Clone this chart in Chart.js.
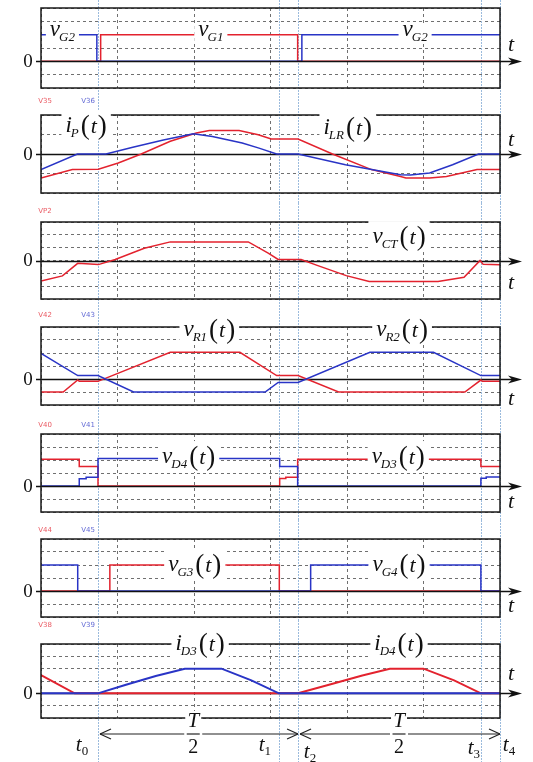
<!DOCTYPE html>
<html>
<head>
<meta charset="utf-8">
<title>LLC converter waveforms</title>
<script src="https://cdn.jsdelivr.net/npm/chart.js@4.4.1/dist/chart.umd.min.js"></script>
<style>
  html, body { margin: 0; padding: 0; background: #fff; }
  body { position: relative; width: 533px; height: 762px; overflow: hidden; }
  canvas { position: absolute; left: 0; }
</style>
</head>
<body>
<script>
// time axis runs over 6 grid divisions; switching instants t0..t4
const tMarks = [0.745, 3.11, 3.36, 5.75, 6];
const tSubs = ["0", "1", "2", "3", "4"];
// centres of the two T/2 half-period spans
const halfT = [1.99, 4.68];

// gate drives vG1 / vG2
const vG1T = [0, 0.78, 0.78, 3.355, 3.355, 6];
const vG1V = [0, 0, 2, 2, 0, 0];
const vG2T = [0, 0.73, 0.73, 3.41, 3.41, 6];
const vG2V = [2, 2, 0, 0, 2, 2];

// primary current iP and resonant inductor current iLR
const iPT = [0, 0.476, 0.85, 1.2, 1.6, 1.99, 2.24, 2.63, 2.85, 3.08, 3.36, 3.98, 4.7, 4.83, 5.08, 5.38, 5.72, 6];
const iPV = [-0.8, 0, 0, 0.35, 0.72, 1.04, 0.9, 0.56, 0.3, 0, 0, -0.55, -1.06, -1.08, -0.97, -0.55, 0, 0];
const iLRT = [0, 0.41, 0.75, 1.01, 1.31, 1.69, 2.03, 2.2, 2.59, 2.84, 3.01, 3.36, 3.81, 4.32, 4.7, 4.77, 5.08, 5.3, 5.7, 6];
const iLRV = [-1.23, -0.8, -0.78, -0.46, 0, 0.65, 1.08, 1.2, 1.2, 0.99, 0.77, 0.77, 0, -0.8, -1.15, -1.23, -1.23, -1.15, -0.8, -0.8];

// transformer centre-tap voltage vCT
const vCTT = [0, 0.28, 0.48, 0.75, 0.97, 1.35, 1.69, 2.71, 2.97, 3.1, 3.4, 3.61, 3.99, 4.29, 5.19, 5.53, 5.74, 5.78, 6];
const vCTV = [-1.6, -1.2, -0.22, -0.32, 0.08, 0.95, 1.45, 1.45, 0.58, 0.08, 0.08, -0.38, -1.18, -1.63, -1.63, -1.3, 0, -0.3, -0.33];

// secondary winding voltages vR1 / vR2
const vR1T = [0, 0.29, 0.48, 0.5, 0.745, 1.69, 2.6, 3.08, 3.36, 3.89, 5.54, 5.75, 5.77, 6];
const vR1V = [-1, -1, -0.08, -0.18, -0.18, 2.05, 2.05, 0.26, 0.26, -1, -1, -0.08, -0.18, -0.18];
const vR2T = [0, 0.48, 0.745, 1.21, 2.93, 3.1, 3.36, 4.3, 5.13, 5.75, 6];
const vR2V = [1.97, 0.26, 0.26, -1, -1, -0.26, -0.26, 2.05, 2.05, 0.26, 0.26];

// rectifier diode voltages vD3 / vD4
const vD3T = [0, 0.5, 0.5, 0.745, 0.745, 3.12, 3.12, 3.2, 3.2, 3.355, 3.355, 5.75, 5.75, 6];
const vD3V = [2.05, 2.05, 1.5, 1.5, 0, 0, 0.58, 0.58, 0.68, 0.68, 2.05, 2.05, 1.5, 1.5];
const vD4T = [0, 0.5, 0.5, 0.59, 0.59, 0.745, 0.745, 3.12, 3.12, 3.355, 3.355, 5.75, 5.75, 5.82, 5.82, 6];
const vD4V = [0, 0, 0.55, 0.55, 0.68, 0.68, 2.12, 2.12, 1.5, 1.5, 0, 0, 0.6, 0.6, 0.7, 0.7];

// synchronous rectifier gates vG3 / vG4
const vG3T = [0, 0.9, 0.9, 3.115, 3.115, 6];
const vG3V = [0, 0, 2, 2, 0, 0];
const vG4T = [0, 0.48, 0.48, 3.525, 3.525, 5.75, 5.75, 6];
const vG4V = [2, 2, 0, 0, 2, 2, 0, 0];

// diode currents iD3 / iD4
const iD3T = [0, 0.745, 1.1, 1.5, 1.88, 2.36, 2.75, 3.11, 6];
const iD3V = [0, 0, 0.68, 1.4, 2, 2, 1.05, 0, 0];
const iD4T = [0, 0.44, 3.36, 3.8, 4.2, 4.56, 5.0, 5.4, 5.75, 6];
const iD4V = [1.48, 0, 0, 0.75, 1.45, 2, 2, 1.05, 0, 0];

const RED = "#e3222e";
const BLUE = "#2934c6";
const SERIF = '"Liberation Serif", "DejaVu Serif", serif';

// one strip per trace group; first series in a list is drawn on top
const panels = [
  { strip: [0, 96], box: [8, 88], y: [-2, 4], axisOnTop: true, tOff: -16,
    series: [[vG2T, vG2V, BLUE], [vG1T, vG1V, RED]],
    labels: [["v", "G2", false, 0.28, 2.25], ["v", "G1", false, 2.22, 2.25], ["v", "G2", false, 4.89, 2.25]],
    tags: [] },
  { strip: [96, 203], box: [115, 193], y: [-2, 2], axisOnTop: false, tOff: -14,
    series: [[iPT, iPV, BLUE], [iLRT, iLRV, RED]],
    labels: [["i", "P", true, 0.59, 1.38], ["i", "LR", true, 4.01, 1.3]],
    tags: [["V35", RED], ["V36", BLUE]], tagDy: -13.5 },
  { strip: [203, 308], box: [222, 299], y: [-3, 3], axisOnTop: false, tOff: 23,
    series: [[vCTT, vCTV, RED]],
    labels: [["v", "CT", true, 4.68, 1.75]],
    tags: [["VP2", RED]], tagDy: -10.5 },
  { strip: [308, 413], box: [327, 405], y: [-2, 4], axisOnTop: false, tOff: 20,
    series: [[vR2T, vR2V, BLUE], [vR1T, vR1V, RED]],
    labels: [["v", "R1", true, 2.2, 3.7], ["v", "R2", true, 4.72, 3.7]],
    tags: [["V42", RED], ["V43", BLUE]], tagDy: -12 },
  { strip: [413, 520], box: [434, 512], y: [-2, 4], axisOnTop: true, tOff: 16,
    series: [[vD4T, vD4V, BLUE], [vD3T, vD3V, RED]],
    labels: [["v", "D4", true, 1.93, 2.15], ["v", "D3", true, 4.67, 2.15]],
    tags: [["V40", RED], ["V41", BLUE]], tagDy: -9 },
  { strip: [520, 620], box: [539, 617], y: [-2, 4], axisOnTop: true, tOff: 15,
    series: [[vG4T, vG4V, BLUE], [vG3T, vG3V, RED]],
    labels: [["v", "G3", true, 2.01, 1.92], ["v", "G4", true, 4.68, 1.92]],
    tags: [["V44", RED], ["V45", BLUE]], tagDy: -9 },
  { strip: [620, 762], box: [644, 718], y: [-2, 4], axisOnTop: false, tOff: -19, width: 2,
    series: [[iD3T, iD3V, BLUE], [iD4T, iD4V, RED]],
    labels: [["i", "D3", true, 2.08, 3.92], ["i", "D4", true, 4.68, 3.92]],
    tags: [["V38", RED], ["V39", BLUE]], tagDy: -19, bottom: true }
];

function seg(ctx, x1, y1, x2, y2) {
  ctx.beginPath();
  ctx.moveTo(x1, y1);
  ctx.lineTo(x2, y2);
  ctx.stroke();
}

// italic symbol with subscript, optionally followed by (t), on a white patch
function mathLabel(ctx, cx, cy, main, sub, paren) {
  const fMain = "italic 23px " + SERIF;
  const fSub = "italic 13px " + SERIF;
  const fPar = "27px " + SERIF;
  const fT = "italic 22px " + SERIF;
  ctx.font = fMain; const wm = ctx.measureText(main).width;
  ctx.font = fSub; const ws = ctx.measureText(sub).width;
  let wp = 0, wt = 0;
  if (paren) {
    ctx.font = fPar; wp = ctx.measureText("(").width;
    ctx.font = fT; wt = ctx.measureText("t").width;
  }
  const total = wm - 1 + ws + (paren ? 2 + wp + 1 + wt + 1 + wp : 0);
  let x = cx - total / 2;
  ctx.fillStyle = "#fff";
  if (paren) ctx.fillRect(x - 4, cy - 17, total + 8, 31);
  else ctx.fillRect(x - 4, cy - 7, total + 8, 18);
  ctx.fillStyle = "#111";
  ctx.textAlign = "left";
  ctx.textBaseline = "alphabetic";
  ctx.font = fMain; ctx.fillText(main, x, cy + 5); x += wm - 1;
  ctx.font = fSub; ctx.fillText(sub, x, cy + 10); x += ws;
  if (paren) {
    x += 2;
    ctx.font = fPar; ctx.fillText("(", x, cy + 7); x += wp + 1;
    ctx.font = fT; ctx.fillText("t", x, cy + 6); x += wt + 1;
    ctx.font = fPar; ctx.fillText(")", x, cy + 7);
  }
}

function makeDecor(p) {
  const oy = p.strip[0];

  function axis(chart) {
    const ctx = chart.ctx, a = chart.chartArea;
    const y0 = Math.round(chart.scales.y.getPixelForValue(0)) + 0.5;
    ctx.save();
    ctx.strokeStyle = "#111";
    ctx.lineWidth = 1.5;
    seg(ctx, a.left - 5, y0, a.right + 14, y0);
    ctx.fillStyle = "#111";
    ctx.beginPath();
    ctx.moveTo(a.right + 22, y0);
    ctx.lineTo(a.right + 8, y0 - 4);
    ctx.lineTo(a.right + 12, y0);
    ctx.lineTo(a.right + 8, y0 + 4);
    ctx.closePath();
    ctx.fill();
    ctx.restore();
  }

  return {
    id: "decor",
    beforeDatasetsDraw(chart) {
      const ctx = chart.ctx, xs = chart.scales.x;
      ctx.save();
      ctx.strokeStyle = "#9bbbdd";
      ctx.lineWidth = 1;
      ctx.setLineDash([2, 1]);
      tMarks.forEach(t => {
        const x = Math.round(xs.getPixelForValue(t)) + 0.5;
        seg(ctx, x, 0, x, chart.height);
      });
      ctx.restore();
      if (!p.axisOnTop) axis(chart);
    },
    afterDatasetsDraw(chart) {
      const ctx = chart.ctx, a = chart.chartArea;
      const xs = chart.scales.x, ys = chart.scales.y;
      if (p.axisOnTop) axis(chart);
      ctx.save();
      ctx.strokeStyle = "#1a1a1a";
      ctx.lineWidth = 1.5;
      ctx.strokeRect(a.left, a.top, a.right - a.left, a.bottom - a.top);

      const y0 = ys.getPixelForValue(0);
      ctx.fillStyle = "#111";
      ctx.textAlign = "center";
      ctx.textBaseline = "middle";
      ctx.font = "19px " + SERIF;
      ctx.fillText("0", 28, y0 + 1);
      ctx.font = "italic 22px " + SERIF;
      ctx.fillText("t", 511, y0 + p.tOff);

      p.labels.forEach(([m, s, par, lx, ly]) => {
        mathLabel(ctx, xs.getPixelForValue(lx), ys.getPixelForValue(ly), m, s, par);
      });

      ctx.font = '7px "DejaVu Sans", sans-serif';
      ctx.textAlign = "center";
      ctx.textBaseline = "middle";
      p.tags.forEach(([txt, col], i) => {
        ctx.fillStyle = col;
        ctx.globalAlpha = 0.75;
        ctx.fillText(txt, [45, 88][i], a.top + p.tagDy);
      });
      ctx.globalAlpha = 1;

      if (p.bottom) {
        // T/2 spans between switching instants
        const yA = 734 - oy;
        ctx.strokeStyle = "#222";
        ctx.lineWidth = 1.2;
        [[tMarks[0], tMarks[2]], [tMarks[2], tMarks[4]]].forEach(([ta, tb], k) => {
          const xa = xs.getPixelForValue(ta) + 2, xb = xs.getPixelForValue(tb);
          const xc = xs.getPixelForValue(halfT[k]);
          seg(ctx, xa, yA, xc - 9, yA);
          seg(ctx, xc + 9, yA, xb, yA);
          seg(ctx, xc - 6.5, yA, xc + 6.5, yA);
          seg(ctx, xa, yA, xa + 11, yA - 5);
          seg(ctx, xa, yA, xa + 11, yA + 5);
          seg(ctx, xb, yA, xb - 11, yA - 5);
          seg(ctx, xb, yA, xb - 11, yA + 5);
          ctx.fillStyle = "#fff";
          ctx.fillRect(xc - 8, 711 - oy, 16, 18);
          ctx.fillStyle = "#111";
          ctx.textAlign = "center";
          ctx.textBaseline = "middle";
          ctx.font = "italic 21px " + SERIF;
          ctx.fillText("T", xc, 721 - oy);
          ctx.font = "20px " + SERIF;
          ctx.fillText("2", xc, 748 - oy);
        });

        // t0..t4 names under the marker lines
        const tLab = [[-16, 751], [-14, 751], [12, 758], [-7, 754], [9, 751]];
        ctx.textAlign = "left";
        ctx.textBaseline = "alphabetic";
        tMarks.forEach((t, i) => {
          const x = xs.getPixelForValue(t) + tLab[i][0], yb = tLab[i][1] - oy;
          ctx.font = "italic 21px " + SERIF;
          const w = ctx.measureText("t").width;
          ctx.font = "13px " + SERIF;
          const ws = ctx.measureText(tSubs[i]).width;
          const x0 = x - (w + ws) / 2;
          ctx.font = "italic 21px " + SERIF;
          ctx.fillText("t", x0, yb);
          ctx.font = "13px " + SERIF;
          ctx.fillText(tSubs[i], x0 + w, yb + 4);
        });
      }
      ctx.restore();
    }
  };
}

panels.forEach(p => {
  const h = p.strip[1] - p.strip[0];
  const cv = document.createElement("canvas");
  cv.width = 533;
  cv.height = h;
  cv.style.width = "533px";
  cv.style.height = h + "px";
  cv.style.top = p.strip[0] + "px";
  document.body.appendChild(cv);

  const gridStyle = { color: "#707070", lineWidth: 1, drawTicks: false };
  new Chart(cv, {
    type: "line",
    data: {
      datasets: p.series.map(([ts, vs, col]) => ({
        data: ts.map((t, i) => ({ x: t, y: vs[i] })),
        borderColor: col,
        borderWidth: p.width || 1.5,
        pointRadius: 0,
        tension: 0,
        fill: false
      }))
    },
    options: {
      responsive: false,
      animation: false,
      devicePixelRatio: 1,
      events: [],
      layout: { padding: { left: 41, right: 33, top: p.box[0] - p.strip[0], bottom: p.strip[1] - p.box[1] } },
      plugins: { legend: { display: false }, tooltip: { enabled: false } },
      scales: {
        x: { type: "linear", min: 0, max: 6, ticks: { display: false, stepSize: 1 },
             grid: gridStyle, border: { display: false, dash: [3, 3] } },
        y: { type: "linear", min: p.y[0], max: p.y[1], ticks: { display: false, stepSize: 1 },
             grid: gridStyle, border: { display: false, dash: [3, 3] } }
      }
    },
    plugins: [makeDecor(p)]
  });
});
</script>
</body>
</html>
